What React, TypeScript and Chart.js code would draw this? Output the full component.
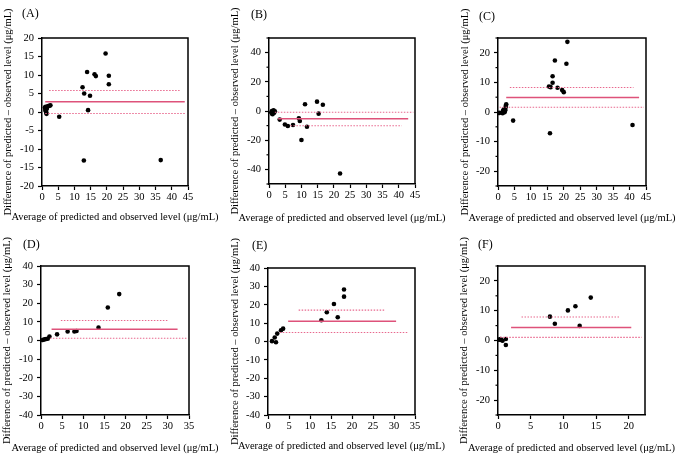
import React, { useEffect, useRef } from 'react';
import { Chart, registerables } from 'chart.js';

Chart.register(...registerables);

const FONT = "'Liberation Serif', 'Times New Roman', serif";
const X_TITLE = 'Average of predicted and observed level (μg/mL)';
const Y_TITLE = 'Difference of predicted – observed level (μg/mL)';

// ---- Panel A ----
const xA = [0.9, 1.0, 1.1, 1.2, 1.3, 1.4, 1.5, 1.6, 1.9, 2.3, 2.6, 1.1, 5.3, 12.5, 13.0, 13.9, 14.2, 14.8, 16.2, 16.6, 19.6, 20.6, 20.6, 12.9, 36.6];
const yA = [1.2, 0.9, 0.5, 0.2, -0.2, -0.5, 0.9, 1.4, 1.6, 1.7, 1.8, 1.4, -1.3, 6.7, 5.0, 10.8, 0.5, 4.4, 10.2, 9.7, 15.8, 9.8, 7.5, -13.1, -13.0];
const biasA = [2.8, 5.8, -0.4];
const spansA = [[1.0, 44.0], [2.2, 42.4], [1.0, 44.0]];
const xTicksA = [0, 5, 10, 15, 20, 25, 30, 35, 40, 45];
const yTicksA = [-20, -15, -10, -5, 0, 5, 10, 15, 20];

// ---- Panel B ----
const xB = [0.7, 1.0, 1.2, 1.4, 1.6, 1.8, 1.1, 0.9, 3.3, 4.9, 5.8, 7.4, 9.2, 9.5, 10.0, 11.1, 11.7, 14.8, 15.3, 16.6, 21.9];
const yB = [-1.0, -1.8, -0.5, 0.4, -1.2, -0.2, -2.2, 0.0, -5.9, -9.2, -10.3, -9.6, -5.0, -6.9, -19.9, 4.6, -10.8, 6.4, -1.8, 4.3, -42.8];
const biasB = [-5.3, -0.9, -10.1];
const spansB = [[2.8, 42.9], [1.8, 44.5], [6.6, 40.9]];
const xTicksB = [0, 5, 10, 15, 20, 25, 30, 35, 40, 45];
const yTicksB = [-40, -20, 0, 20, 40];
const yMinorB = [-50, -30, -10, 10, 30, 50];

// ---- Panel C ----
const xC = [0.4, 1.4, 1.5, 1.7, 1.9, 2.0, 2.1, 2.3, 2.4, 2.5, 1.8, 2.2, 4.6, 15.5, 16.0, 16.6, 16.6, 17.3, 18.1, 19.5, 20.0, 20.8, 21.1, 15.8, 40.9];
const yC = [-0.3, -0.4, 0.3, 0.8, 0.4, -0.1, 0.9, 1.5, 2.1, 2.6, 0.0, 0.6, -2.9, 8.6, 8.4, 12.1, 9.9, 17.4, 8.2, 7.4, 6.7, 16.3, 23.7, -7.2, -4.4];
const biasC = [4.9, 8.3, 1.6];
const spansC = [[2.5, 42.9], [3.6, 41.2], [0.5, 44.4]];
const xTicksC = [0, 5, 10, 15, 20, 25, 30, 35, 40, 45];
const yTicksC = [-20, -10, 0, 10, 20];
const yMinorC = [-25, -15, -5, 5, 15, 25];

// ---- Panel D ----
const xD = [0.4, 0.8, 1.2, 1.6, 2.0, 3.8, 6.3, 7.9, 8.4, 13.6, 15.8, 18.5];
const yD = [0.3, 0.6, 0.8, 0.9, 2.1, 3.3, 4.8, 4.8, 5.1, 6.9, 17.7, 24.9];
const biasD = [6.0, 10.7, 1.2];
const spansD = [[2.5, 32.3], [4.7, 30.1], [2.1, 34.4]];
const xTicksD = [0, 5, 10, 15, 20, 25, 30, 35];
const yTicksD = [-40, -30, -20, -10, 0, 10, 20, 30, 40];

// ---- Panel E ----
const xE = [0.95, 1.6, 1.9, 2.2, 3.1, 3.6, 12.7, 14.0, 15.7, 16.6, 18.1, 18.1];
const yE = [0.2, 2.2, -0.4, 4.3, 6.1, 7.0, 11.6, 15.9, 20.4, 13.2, 24.4, 28.3];
const biasE = [11.0, 17.1, 4.9];
const spansE = [[4.8, 30.5], [7.3, 28.0], [2.8, 33.3]];
const xTicksE = [0, 5, 10, 15, 20, 25, 30, 35];
const yTicksE = [-40, -30, -20, -10, 0, 10, 20, 30, 40];

// ---- Panel F ----
const xF = [0.2, 0.4, 0.5, 0.7, 1.2, 1.2, 7.95, 8.7, 10.7, 11.85, 12.5, 14.2];
const yF = [0.3, 0.5, 0.2, -0.1, 0.5, -1.5, 8.0, 5.6, 10.1, 11.5, 4.9, 14.4];
const biasF = [4.4, 7.9, 1.05];
const spansF = [[2.0, 20.4], [3.6, 18.7], [0.35, 22.0]];
const xTicksF = [0, 5, 10, 15, 20];
const yTicksF = [-20, -10, 0, 10, 20];
const yMinorF = [-25, -15, -5, 5, 15, 25];

type PanelDef = {
  label: string;
  left: number; top: number; w: number; h: number;
  area: { l: number; r: number; t: number; b: number };
  yTitlePad: number; xTitleY: number;
  labelPos: [number, number];
  xs: number[]; ys: number[]; bias: number[]; spans: number[][];
  xMax: number; xTicks: number[];
  yMin: number; yMax: number; yTicks: number[]; yMinor: number[];
};

const panels: PanelDef[] = [
  { label: '(A)', left: 0, top: 0, w: 225, h: 228, area: { l: 42, r: 188, t: 38, b: 186 }, yTitlePad: 2, xTitleY: 217, labelPos: [22, 7],
    xs: xA, ys: yA, bias: biasA, spans: spansA, xMax: 45, xTicks: xTicksA, yMin: -20, yMax: 20, yTicks: yTicksA, yMinor: [] },
  { label: '(B)', left: 225, top: 0, w: 225, h: 228, area: { l: 44, r: 190, t: 38, b: 184 }, yTitlePad: 4, xTitleY: 218, labelPos: [26, 8],
    xs: xB, ys: yB, bias: biasB, spans: spansB, xMax: 45, xTicks: xTicksB, yMin: -50, yMax: 50, yTicks: yTicksB, yMinor: yMinorB },
  { label: '(C)', left: 450, top: 0, w: 226, h: 228, area: { l: 48, r: 196, t: 38, b: 186 }, yTitlePad: 8.5, xTitleY: 218, labelPos: [29, 10],
    xs: xC, ys: yC, bias: biasC, spans: spansC, xMax: 45, xTicks: xTicksC, yMin: -25, yMax: 25, yTicks: yTicksC, yMinor: yMinorC },
  { label: '(D)', left: 0, top: 228, w: 225, h: 228, area: { l: 41, r: 189, t: 38, b: 187 }, yTitlePad: 1, xTitleY: 220, labelPos: [23, 10],
    xs: xD, ys: yD, bias: biasD, spans: spansD, xMax: 35, xTicks: xTicksD, yMin: -40, yMax: 40, yTicks: yTicksD, yMinor: [] },
  { label: '(E)', left: 225, top: 228, w: 225, h: 228, area: { l: 43, r: 190, t: 40, b: 187 }, yTitlePad: 4, xTitleY: 218.5, labelPos: [27, 11],
    xs: xE, ys: yE, bias: biasE, spans: spansE, xMax: 35, xTicks: xTicksE, yMin: -40, yMax: 40, yTicks: yTicksE, yMinor: [] },
  { label: '(F)', left: 450, top: 228, w: 226, h: 228, area: { l: 48, r: 195, t: 38, b: 187 }, yTitlePad: 8, xTitleY: 220, labelPos: [28, 10],
    xs: xF, ys: yF, bias: biasF, spans: spansF, xMax: 22.5, xTicks: xTicksF, yMin: -25, yMax: 25, yTicks: yTicksF, yMinor: yMinorF },
];

const SOLID = 'rgb(222,82,122)';
const DOTTED = 'rgb(232,104,142)';

const framePlugin = {
  id: 'frame',
  afterDraw(chart: any) {
    const { ctx, chartArea: a } = chart;
    ctx.save();
    ctx.strokeStyle = '#000';
    ctx.lineWidth = 1.5;
    ctx.beginPath();
    ctx.moveTo(a.left, a.top);
    ctx.lineTo(a.right, a.top);
    ctx.lineTo(a.right, a.bottom);
    ctx.stroke();
    ctx.restore();
  },
};

const minorPlugin = {
  id: 'minorTicks',
  afterDraw(chart: any, _args: any, opts: any) {
    const vals: number[] = (opts && opts.values) || [];
    const y = chart.scales.y;
    const { ctx, chartArea: a } = chart;
    ctx.save();
    ctx.strokeStyle = '#000';
    ctx.lineWidth = 1.2;
    for (const v of vals) {
      const py = y.getPixelForValue(v);
      ctx.beginPath();
      ctx.moveTo(a.left, py);
      ctx.lineTo(a.left - 2.5, py);
      ctx.stroke();
    }
    ctx.restore();
  },
};

const xTitlePlugin = {
  id: 'xTitle',
  afterDraw(chart: any, _args: any, opts: any) {
    const { ctx, chartArea: a } = chart;
    ctx.save();
    ctx.font = `10.5px ${FONT}`;
    ctx.fillStyle = '#000';
    ctx.textAlign = 'center';
    ctx.textBaseline = 'middle';
    ctx.fillText(opts.text, (a.left + a.right) / 2, opts.y);
    ctx.restore();
  },
};

function PanelChart({ p }: { p: PanelDef }) {
  const ref = useRef<HTMLCanvasElement>(null);
  useEffect(() => {
    const canvas = ref.current!;
    const pts = p.xs.map((x, i) => ({ x, y: p.ys[i] }));
    const line = (i: number) => ({
      type: 'line' as const,
      data: [{ x: p.spans[i][0], y: p.bias[i] }, { x: p.spans[i][1], y: p.bias[i] }],
      borderColor: i === 0 ? SOLID : DOTTED,
      borderWidth: i === 0 ? 1.5 : 1.1,
      borderDash: i === 0 ? [] : [1.5, 1.5],
      pointRadius: 0,
      fill: false,
      showLine: true,
    });
    const tickFont = { family: FONT, size: 10.5 };
    const chart = new Chart(canvas, {
      type: 'scatter',
      data: {
        datasets: [
          line(0) as any,
          line(1) as any,
          line(2) as any,
          { data: pts, backgroundColor: '#000', borderColor: '#000', pointRadius: 2.3, pointBorderWidth: 0 },
        ],
      },
      options: {
        responsive: false,
        animation: false,
        layout: { padding: { top: p.area.t, right: p.w - p.area.r, left: 0, bottom: 0 } },
        plugins: {
          legend: { display: false },
          tooltip: { enabled: false },
          minorTicks: { values: p.yMinor },
          xTitle: { text: X_TITLE, y: p.xTitleY },
        } as any,
        scales: {
          x: {
            type: 'linear',
            min: 0,
            max: p.xMax,
            afterBuildTicks: (s: any) => { s.ticks = p.xTicks.map((v) => ({ value: v })); },
            afterFit: (s: any) => { s.height = p.h - p.area.b; },
            ticks: { font: tickFont, color: '#000', padding: 1, maxRotation: 0, autoSkip: false, callback: (v: any) => String(v) },
            grid: { drawOnChartArea: false, drawTicks: true, tickLength: 4, color: '#000', tickWidth: 1.2 },
            border: { display: true, color: '#000', width: 1.5 },
            title: { display: false },
          },
          y: {
            type: 'linear',
            min: p.yMin,
            max: p.yMax,
            afterBuildTicks: (s: any) => { s.ticks = p.yTicks.map((v) => ({ value: v })); },
            afterFit: (s: any) => { s.width = p.area.l; },
            ticks: { font: tickFont, color: '#000', padding: 4, callback: (v: any) => String(v) },
            grid: { drawOnChartArea: false, drawTicks: true, tickLength: 4, color: '#000', tickWidth: 1.2 },
            border: { display: true, color: '#000', width: 1.5 },
            title: { display: true, text: Y_TITLE, font: tickFont, color: '#000', padding: { top: p.yTitlePad, bottom: 0 } },
          },
        },
      },
      plugins: [framePlugin, minorPlugin, xTitlePlugin],
    });
    return () => chart.destroy();
  }, [p]);
  return (
    <div style={{ position: 'absolute', left: p.left, top: p.top, width: p.w, height: p.h }}>
      <canvas ref={ref} width={p.w} height={p.h} style={{ display: 'block', width: p.w, height: p.h }} />
      <div style={{ position: 'absolute', left: p.labelPos[0], top: p.labelPos[1], fontFamily: FONT, fontSize: 12, lineHeight: 1, color: '#000' }}>
        {p.label}
      </div>
    </div>
  );
}

export default function App() {
  return (
    <div style={{ position: 'absolute', left: 0, top: 0, width: 676, height: 456, background: '#fff' }}>
      {panels.map((p) => (
        <PanelChart key={p.label} p={p} />
      ))}
    </div>
  );
}
